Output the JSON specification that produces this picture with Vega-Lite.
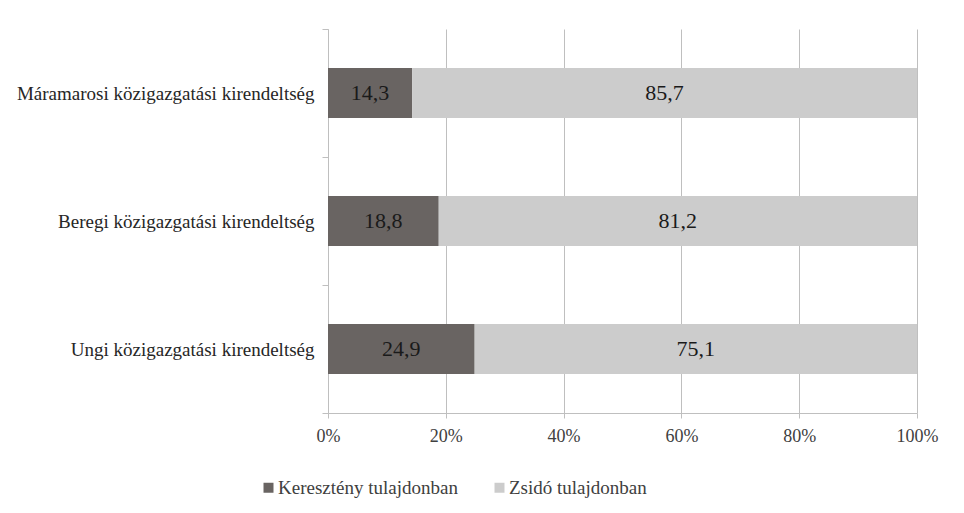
{
  "$schema": "https://vega.github.io/schema/vega-lite/v6.json",
  "width": 589,
  "height": 384,
  "autosize": {"type": "none"},
  "padding": {"left": 328, "top": 29, "right": 47, "bottom": 100},
  "background": "white",
  "config": {
    "font": "'Liberation Serif', 'Times New Roman', serif",
    "view": {"stroke": null},
    "locale": {
      "number": {"decimal": ",", "thousands": " ", "grouping": [3], "currency": ["", " Ft"]}
    }
  },
  "data": {
    "values": [
      {"region": "Máramarosi közigazgatási kirendeltség", "series": "Keresztény tulajdonban", "value": 14.3},
      {"region": "Máramarosi közigazgatási kirendeltség", "series": "Zsidó tulajdonban", "value": 85.7},
      {"region": "Beregi közigazgatási kirendeltség", "series": "Keresztény tulajdonban", "value": 18.8},
      {"region": "Beregi közigazgatási kirendeltség", "series": "Zsidó tulajdonban", "value": 81.2},
      {"region": "Ungi közigazgatási kirendeltség", "series": "Keresztény tulajdonban", "value": 24.9},
      {"region": "Ungi közigazgatási kirendeltség", "series": "Zsidó tulajdonban", "value": 75.1}
    ]
  },
  "transform": [
    {"stack": "value", "groupby": ["region"], "sort": [{"field": "series", "order": "ascending"}], "as": ["v0", "v1"], "offset": "normalize"},
    {"calculate": "(datum.v0 + datum.v1) / 2", "as": "mid"}
  ],
  "encoding": {
    "y": {
      "field": "region",
      "type": "nominal",
      "sort": ["Máramarosi közigazgatási kirendeltség", "Beregi közigazgatási kirendeltség", "Ungi közigazgatási kirendeltség"],
      "scale": {"paddingInner": 0, "paddingOuter": 0},
      "axis": {
        "title": null,
        "domain": true,
        "domainColor": "#bfbfbf",
        "ticks": true,
        "tickBand": "extent",
        "tickColor": "#bfbfbf",
        "tickSize": 6,
        "labelPadding": 8,
        "labelFont": "'Liberation Serif', 'Times New Roman', serif",
        "labelFontSize": 19,
        "labelColor": "#262626",
        "labelLimit": 400
      }
    }
  },
  "layer": [
    {
      "mark": {"type": "bar", "height": {"band": 0.39}},
      "encoding": {
        "x": {
          "field": "v0",
          "type": "quantitative",
          "scale": {"domain": [0, 1], "nice": false},
          "axis": {
            "title": null,
            "format": "%",
            "values": [0, 0.2, 0.4, 0.6, 0.8, 1],
            "grid": true,
            "gridColor": "#bfbfbf",
            "domainColor": "#bfbfbf",
            "tickColor": "#bfbfbf",
            "tickSize": 5,
            "labelPadding": 9,
            "labelFont": "'Liberation Serif', 'Times New Roman', serif",
            "labelFontSize": 18,
            "labelColor": "#404040",
            "labelFlush": false
          }
        },
        "x2": {"field": "v1"},
        "color": {
          "field": "series",
          "type": "nominal",
          "scale": {"domain": ["Keresztény tulajdonban", "Zsidó tulajdonban"], "range": ["#696462", "#cccccc"]},
          "legend": {
            "title": null,
            "orient": "none",
            "direction": "horizontal",
            "legendX": -69,
            "legendY": 449,
            "symbolType": "square",
            "symbolSize": 100,
            "symbolStrokeWidth": 0,
            "labelFont": "'Liberation Serif', 'Times New Roman', serif",
            "labelFontSize": 19,
            "labelColor": "#404040",
            "labelOffset": 0,
            "labelLimit": 300,
            "columnPadding": 32
          }
        }
      }
    },
    {
      "mark": {"type": "text", "font": "'Liberation Serif', 'Times New Roman', serif", "fontSize": 22, "color": "#1a1a1a", "baseline": "middle"},
      "encoding": {
        "x": {"field": "mid", "type": "quantitative"},
        "text": {"field": "value", "type": "quantitative", "format": ".1f"}
      }
    }
  ]
}
